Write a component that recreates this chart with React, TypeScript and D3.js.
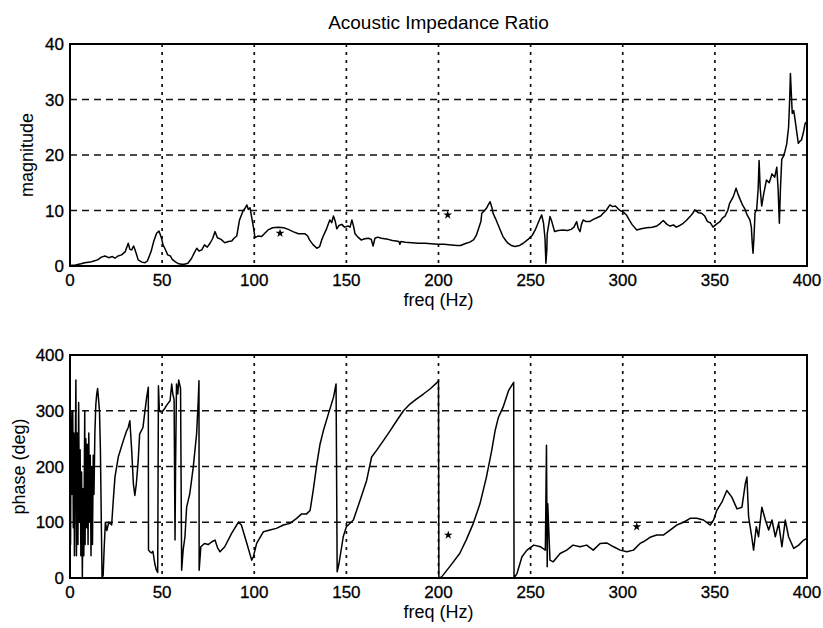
import * as d3 from 'd3'

// Magnitude trace, [freq Hz, |Z ratio|]
const magnitudePoints: [number, number][] = [
  [0, 0.1], [3, 0.2], [6, 0.4], [8, 0.6], [11, 0.7], [13, 0.9], [15, 1.1], [17, 1.6], [19, 1.8],
  [21, 1.5], [23, 1.7], [24.4, 1.4], [26, 1.8], [28, 2.0], [30, 2.6], [31.6, 4.1], [32.5, 3.0],
  [33.5, 2.9], [34.5, 3.6], [35, 3.2], [36, 2.2], [37, 1.1], [39, 0.7], [40.7, 0.6], [42, 0.9],
  [44, 2.6], [45.5, 4.5], [47, 5.9], [48.3, 6.3], [49.5, 5.2], [50.5, 3.8], [52, 2.8], [53, 2.0],
  [54.5, 1.8], [55.5, 1.2], [57, 0.8], [59, 0.4], [60.6, 0.3], [62, 0.3], [64, 0.5], [66, 1.4],
  [67.5, 2.4], [68.8, 3.2], [70, 2.7], [71.5, 2.9], [73, 3.8], [74.5, 3.4], [76, 4.1], [77.5, 5.0],
  [78.7, 6.2], [80, 5.1], [82, 4.8], [84, 4.2], [86, 4.4], [87.8, 4.5], [89, 5.0], [90.5, 5.4],
  [92, 8.3], [94, 10], [95, 10.4], [96, 11], [96.8, 10.2], [97.7, 10.5], [98.5, 9], [99.5, 7.1],
  [100.4, 5.1], [102, 5.4], [104, 5.3], [106, 6.0], [107.5, 6.5], [110, 6.9], [113, 7.0],
  [116, 6.9], [118.5, 6.6], [121, 6.2], [124, 5.8], [127.6, 5.8], [129, 5.4], [130, 4.7],
  [132, 3.8], [134, 3.2], [135.5, 3.5], [136.6, 4.7], [138, 5.8], [139, 6.5], [141, 8.3],
  [142, 7.8], [143, 9.0], [144, 8.0], [144.8, 6.7], [146, 7.3], [147.5, 7.5], [149, 7.0],
  [151, 7.2], [152, 7.0], [153, 8.3], [154, 7.0], [154.7, 5.8], [156, 5.3], [158, 4.7],
  [160, 4.9], [162, 5.0], [163.5, 4.8], [164.5, 3.6], [165.5, 5.0], [167, 5.2], [169, 5.0],
  [172.6, 4.8], [175, 4.6], [177, 4.5], [178.5, 4.4], [179, 3.9], [179.6, 4.4], [182, 4.3],
  [185.5, 4.2], [189, 4.1], [192.7, 4.1], [196, 4.0], [199.7, 3.9], [203, 3.9], [207, 3.8],
  [210, 3.7], [212, 3.7], [215, 4.1], [217, 4.3], [219, 4.7], [220.5, 5.5], [221.5, 6.5],
  [223, 8.0], [223.5, 9.5], [225, 10.0], [226, 10.4], [227, 11.0], [228, 11.6], [229, 10.5],
  [229.6, 9.5], [231, 8.5], [232, 7.7], [233.5, 6.5], [235, 5.3], [236.5, 4.6], [237.7, 4.1],
  [239.5, 3.7], [241.5, 3.5], [244, 3.7], [246, 4.1], [248.6, 4.8], [250, 5.2], [251, 5.6],
  [252.5, 6.5], [254, 7.7], [255, 8.5], [256, 9.2], [257, 7.7], [257.8, 5], [258.3, 0.5],
  [258.8, 3], [259, 5.8], [260.5, 8.9], [261.5, 8.0], [263, 6.2], [265, 6.4], [267.6, 6.5],
  [270, 6.4], [272, 6.6], [273.5, 7.0], [275, 8.0], [275.8, 6.8], [276.8, 6.2], [277.6, 7.5],
  [278.5, 8.3], [280, 8.0], [282, 8.0], [284, 8.4], [286, 8.7], [288, 9.0], [289.4, 9.5],
  [291, 10.0], [293, 11.0], [294.5, 10.7], [296, 10.8], [297.5, 10.3], [298.5, 10.0],
  [300, 9.8], [302, 9.2], [303.5, 8.3], [305, 7.5], [307.6, 6.5], [310, 6.7], [313, 6.9],
  [316, 7.0], [318.5, 7.2], [320, 7.6], [322, 8.2], [324, 7.5], [325.7, 7.2], [327.5, 7.4],
  [329, 7.0], [331, 7.3], [332.8, 7.7], [334.5, 8.2], [336.5, 8.9], [338, 9.5], [339, 10.1],
  [341, 9.6], [342.8, 9.5], [344.5, 9.0], [346, 8.0], [347.5, 7.8], [349, 7.0], [351, 7.6],
  [352.8, 8.0], [354, 8.6], [355.5, 9.0], [357, 10], [358, 11.3], [360, 12.5], [361.5, 14.0],
  [362.5, 13], [363.7, 12.0], [365, 11.0], [366.4, 10.2], [367.5, 9.2], [369, 8.3], [369.8, 7],
  [370.3, 4], [370.7, 2.3], [371.2, 5], [371.8, 9.6], [372.7, 10.2], [373.5, 14], [374, 19],
  [374.6, 14], [375.4, 10.8], [376.5, 13], [378, 15.5], [379.5, 15], [381, 16.6], [382.5, 16],
  [383.6, 17.8], [384.3, 14], [385, 7.7], [385.6, 14], [386.3, 19.2], [387.2, 19.8], [388, 20.6],
  [389, 22], [390, 25], [390.6, 30], [391, 34.7], [391.5, 31], [392, 27.5], [392.8, 28],
  [393.5, 26.4], [394.5, 24], [395.3, 22.1], [396.2, 22.5], [397, 22.7], [398, 24], [399, 25.7],
  [400, 26],
]

// Phase trace, [freq Hz, degrees] (wraps drawn as vertical jumps)
const phasePoints: [number, number][] = [
  [0, 270], [0.3, 60], [0.6, 300], [0.9, 150], [1.2, 200], [1.5, 300], [1.8, 90], [2.1, 260],
  [2.4, 40], [2.8, 200], [3.2, 355], [3.5, 40], [3.9, 260], [4.3, 60], [4.7, 315], [5.1, 100],
  [5.5, 230], [5.9, 40], [6.3, 190], [6.7, 0], [7.1, 160], [7.5, 40], [8.0, 300], [8.2, 60],
  [8.6, 250], [9.0, 90], [9.4, 240], [9.8, 60], [10.2, 260], [10.6, 100], [11, 220], [11.4, 40],
  [11.8, 200], [12.2, 60], [12.6, 220], [13, 150], [13.5, 260], [14, 310], [14.5, 330],
  [15, 340], [15.5, 320], [16, 300], [16.5, 230], [17, 100], [17.4, 0], [18, 5], [18.5, 50],
  [19.2, 100], [20, 85], [21, 100], [22.6, 95], [23.5, 140], [24.4, 181], [26.2, 217],
  [28.9, 246], [30.5, 262], [31.6, 270], [32.5, 282], [33.5, 228], [34.4, 169], [35.2, 148],
  [36, 169], [37, 210], [37.8, 258], [39.6, 270], [40.5, 295], [41.6, 324], [42.5, 342],
  [42.6, 50], [43.4, 47], [44.3, 45], [45, 48], [46, 26], [46.8, 15], [47.6, 10], [48, 345],
  [48.5, 300], [49, 298], [50.5, 300], [51.6, 305], [52.5, 310], [54.3, 318], [55.2, 348],
  [55.8, 330], [56.5, 320], [57, 68], [57.3, 200], [57.8, 348], [58.5, 330], [59, 355],
  [60, 340], [60.6, 14], [61.4, 50], [62.4, 74], [63.3, 127], [65, 151], [66.9, 199],
  [68.7, 258], [69.6, 318], [70, 354], [70.1, 14], [71, 56], [73, 62], [75, 60], [77, 65],
  [78.7, 68], [80, 55], [81.4, 47], [84, 56], [87.7, 80], [91.4, 100], [93, 95], [96, 62],
  [98.6, 32], [99.5, 38], [101.3, 62], [105, 83], [108.5, 86], [112, 89], [115.8, 95],
  [119.4, 98], [123, 107], [125.7, 115], [128.4, 115], [130.3, 121], [132, 157], [134, 205],
  [135.7, 240], [137.5, 264], [140.2, 294], [143, 324], [144.4, 348], [145, 11], [146, 26],
  [148.3, 74], [150, 92], [153.8, 104], [157.4, 139], [161, 175], [163.7, 217], [166.4, 229],
  [170, 246], [173.7, 264], [177.3, 282], [181, 300], [184.5, 312], [188, 321], [191.8, 330],
  [195.4, 339], [199, 350], [200, 354], [200.2, 0], [201.7, 2], [206, 20], [211.5, 44],
  [215, 68], [218.9, 98], [222.5, 133], [226, 181], [228.9, 229], [230.7, 264], [232.5, 288],
  [235, 306], [238, 336], [240.8, 351], [241, 0], [242.6, 8], [245.3, 38], [248, 50],
  [251.7, 59], [255.4, 56], [258, 50], [258.6, 238], [259, 20], [259.3, 133], [260.5, 32],
  [262.3, 29], [266, 44], [269.6, 50], [273, 59], [276.8, 56], [280.4, 59], [284, 50],
  [287.7, 62], [291.3, 63], [295, 56], [298.6, 50], [302.2, 47], [305.8, 50], [309.4, 62],
  [311.2, 65], [314.8, 73], [318.4, 77], [322, 77], [325.7, 86], [329.3, 95], [333, 100],
  [336.6, 107], [340.2, 107], [343.8, 104], [347.5, 95], [349.3, 104], [351, 121], [353.8, 136],
  [356.5, 157], [359.2, 145], [362, 124], [364.7, 127], [366.5, 169], [367.4, 181], [368.3, 110],
  [370, 74], [371, 50], [372.5, 92], [373.7, 74], [375.5, 127], [377.4, 104], [379.2, 86],
  [381, 104], [382.8, 74], [384.6, 98], [386.4, 56], [388.2, 104], [390, 74], [392.8, 53],
  [395.5, 59], [398.2, 68], [400, 71],
]

// stray '*' markers
const magnitudeStars: [number, number][] = [[114, 5.9], [205, 9.2]]
const phaseStars: [number, number][] = [[205.3, 77], [307.6, 92]]

const freqTicks = [0, 50, 100, 150, 200, 250, 300, 350, 400]
const magnitudeTicks = [0, 10, 20, 30, 40]
const phaseTicks = [0, 100, 200, 300, 400]

const W = 823
const H = 628
const FONT = 'Arial, "Liberation Sans", Helvetica, sans-serif'

interface PanelProps {
  top: number
  bottom: number
  domain: [number, number]
  yTicks: number[]
  points: [number, number][]
  stars: [number, number][]
  yLabel: string
  yLabelX: number
  id: string
}

const x = d3.scaleLinear().domain([0, 400]).range([70, 807])

function Panel({ top, bottom, domain, yTicks, points, stars, yLabel, yLabelX, id }: PanelProps) {
  const y = d3.scaleLinear().domain(domain).range([bottom, top])
  const line = d3.line<[number, number]>()
    .x(d => x(d[0]))
    .y(d => y(d[1]))
  const star = d3.symbol().type(d3.symbolStar).size(24)
  const [x0, x1] = x.range()

  return (
    <g>
      <defs>
        <clipPath id={id}>
          <rect x={x0} y={top} width={x1 - x0} height={bottom - top} />
        </clipPath>
      </defs>

      {/* grid */}
      {yTicks.slice(1, -1).map(t => (
        <line key={'h' + t} x1={x0} x2={x1} y1={y(t)} y2={y(t)}
          stroke="#111" strokeWidth={1.7} strokeDasharray="7,5" />
      ))}
      {freqTicks.slice(1, -1).map(t => (
        <line key={'v' + t} x1={x(t)} x2={x(t)} y1={top} y2={bottom}
          stroke="#111" strokeWidth={1.7} strokeDasharray="3,5" />
      ))}

      <g clipPath={`url(#${id})`}>
        <path d={line(points) ?? ''} fill="none" stroke="#000" strokeWidth={1.5}
          strokeLinejoin="round" />
        {stars.map((s, i) => (
          <path key={i} d={star() ?? ''} transform={`translate(${x(s[0])},${y(s[1])})`} fill="#000" />
        ))}
      </g>

      <rect x={x0} y={top} width={x1 - x0} height={bottom - top}
        fill="none" stroke="#000" strokeWidth={2} />

      {/* tick labels */}
      {freqTicks.map(t => (
        <text key={'xt' + t} x={x(t)} y={bottom + 20} textAnchor="middle"
          fontSize={17} fontFamily={FONT} stroke="#000" strokeWidth={0.3}>{t}</text>
      ))}
      {yTicks.map(t => (
        <text key={'yt' + t} x={x0 - 6} y={y(t) + 6} textAnchor="end"
          fontSize={17} fontFamily={FONT} stroke="#000" strokeWidth={0.3}>{t}</text>
      ))}

      <text x={x(200)} y={bottom + 40} textAnchor="middle" fontSize={18} fontFamily={FONT}>freq (Hz)</text>
      <text transform={`translate(${yLabelX},${(top + bottom) / 2}) rotate(-90)`} textAnchor="middle"
        fontSize={18} fontFamily={FONT}>{yLabel}</text>
    </g>
  )
}

export default function App() {
  return (
    <div style={{ position: 'fixed', left: 0, top: 0 }}>
      <svg width={W} height={H} style={{ display: 'block', background: '#fff' }}>
        <rect width={W} height={H} fill="#fff" />
        <text x={x(200)} y={29} textAnchor="middle" fontSize={19} fontFamily={FONT}>
          Acoustic Impedance Ratio
        </text>
        <Panel id="clipMag" top={44} bottom={266} domain={[0, 40]} yTicks={magnitudeTicks}
          points={magnitudePoints} stars={magnitudeStars} yLabel="magnitude" yLabelX={33} />
        <Panel id="clipPhase" top={355} bottom={578} domain={[0, 400]} yTicks={phaseTicks}
          points={phasePoints} stars={phaseStars} yLabel="phase (deg)" yLabelX={25} />
      </svg>
    </div>
  )
}
